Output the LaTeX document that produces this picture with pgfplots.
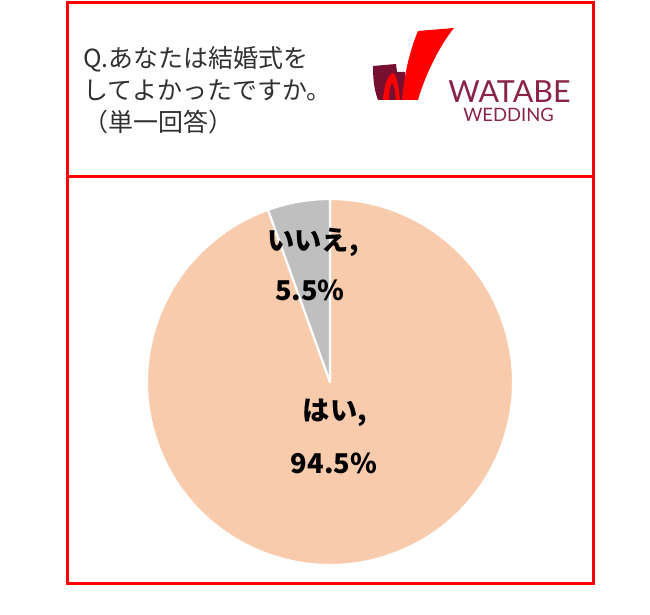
\documentclass[border=0pt]{standalone}
\usepackage{pgfplots}
\pgfplotsset{compat=1.18}
\usepackage{pgfplotstable}
\usepackage{fontspec}
\setmainfont{Noto Sans CJK JP}
\newfontfamily\logofont{Lato}
\definecolor{peach}{HTML}{F8CBAD}
\definecolor{slgray}{HTML}{BFBFBF}
\definecolor{logomaroon}{HTML}{760F30}
\definecolor{wred}{HTML}{FF0000}
\definecolor{wtext}{HTML}{8A2447}
\definecolor{titlegray}{HTML}{303030}

\pgfplotstableread{
idx value
0 94.5
1 5.5
}\piedata

\begin{document}
\begin{tikzpicture}
\pgfplotstablegetelem{0}{value}\of\piedata \let\va\pgfplotsretval
\pgfplotstablegetelem{1}{value}\of\piedata \let\vb\pgfplotsretval
\pgfmathsetmacro\angb{90+3.6*\vb}
\begin{axis}[x=0.02cm, y=0.02cm, y dir=reverse,
  xmin=0, xmax=650, ymin=0, ymax=615,
  hide axis, scale only axis, clip=false]
\path (axis cs:0,0) rectangle (axis cs:650,615);
% frame
\draw[wred, line width=0.06cm] (axis cs:67.5,2.5) rectangle (axis cs:593,583);
\draw[wred, line width=0.06cm] (axis cs:67.5,177) -- (axis cs:593,177);
% pie
\filldraw[fill=peach, draw=white, line width=1.2pt, line join=round]
  (axis cs:330,382) -- ++(\angb:3.66cm) arc[start angle=\angb, end angle=450, radius=3.66cm] -- cycle;
\filldraw[fill=slgray, draw=white, line width=1.2pt, line join=round]
  (axis cs:330,382) -- ++(90:3.66cm) arc[start angle=90, end angle=\angb, radius=3.66cm] -- cycle;
% labels
\node[font=\bfseries\fontsize{15.5}{18}\selectfont] at (axis cs:313,242) {いいえ,};
\node[font=\bfseries\fontsize{15.5}{18}\selectfont] at (axis cs:310,290) {\vb\%};
\node[font=\bfseries\fontsize{15.5}{18}\selectfont] at (axis cs:335,413) {はい,};
\node[font=\bfseries\fontsize{15.5}{18}\selectfont] at (axis cs:334,463) {\va\%};
% title
\node[anchor=west, align=left, text=titlegray, font=\fontsize{14.2}{18.2}\selectfont, inner sep=0pt]
  at (axis cs:83,90) {Q.あなたは結婚式を\\してよかったですか。\\（単一回答）};
% logo
\fill[logomaroon] (axis cs:373,66) -- (axis cs:396,64) -- (axis cs:397,72) -- (axis cs:405,72) -- (axis cs:405,100) -- (axis cs:378,100)
  .. controls (axis cs:374,90) and (axis cs:373,78) .. cycle;
\fill[wred] (axis cs:383,100) .. controls (axis cs:384,85) and (axis cs:388,74) .. (axis cs:393,73)
  .. controls (axis cs:396,74) and (axis cs:398,82) .. (axis cs:400,100) -- (axis cs:396,100)
  .. controls (axis cs:395,90) and (axis cs:394,84) .. (axis cs:392,83)
  .. controls (axis cs:390,85) and (axis cs:389,92) .. (axis cs:389,100) -- cycle;
\fill[wred] (axis cs:418,31) -- (axis cs:454,28) .. controls (axis cs:440,45) and (axis cs:425,75) .. (axis cs:418,100)
  -- (axis cs:402,100) .. controls (axis cs:404,75) and (axis cs:410,50) .. cycle;
\node[wtext, font=\logofont\fontsize{17.3}{17}\selectfont, anchor=base west, inner sep=0pt] at (axis cs:448,103) {WATABE};
\node[wtext, font=\logofont\fontsize{10.5}{10}\selectfont, anchor=base west, inner sep=0pt] at (axis cs:463,122) {WEDDING};
\end{axis}
\end{tikzpicture}
\end{document}
